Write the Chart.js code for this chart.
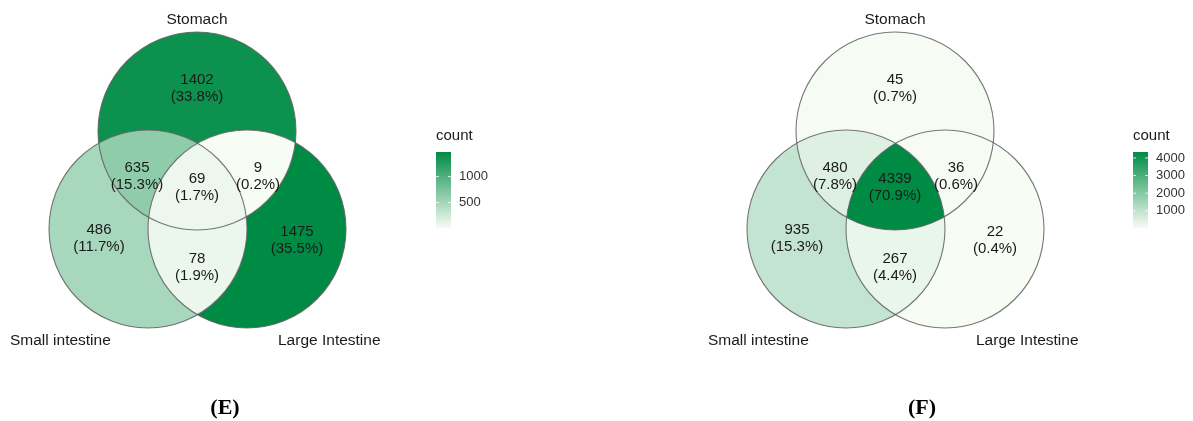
<!DOCTYPE html>
<html>
<head>
<meta charset="utf-8">
<script src="https://cdn.jsdelivr.net/npm/chart.js@4"></script>
<style>
  html, body { margin: 0; padding: 0; background: #ffffff; }
  #wrap { position: relative; width: 1193px; height: 421px; }
</style>
</head>
<body>
<div id="wrap"><canvas id="c"></canvas></div>
<script>
// ---------------- data ----------------
const setNames = ['Stomach', 'Small intestine', 'Large Intestine'];
// region order: S only, SI only, LI only, S∩SI, S∩LI, SI∩LI, S∩SI∩LI
const regionMasks = [[1,0,0],[0,1,0],[0,0,1],[1,1,0],[1,0,1],[0,1,1],[1,1,1]];
const countsE = [1402, 486, 1475, 635, 9, 78, 69];
const pctE    = ['33.8%', '11.7%', '35.5%', '15.3%', '0.2%', '1.9%', '1.7%'];
const countsF = [45, 935, 22, 480, 36, 267, 4339];
const pctF    = ['0.7%', '15.3%', '0.4%', '7.8%', '0.6%', '4.4%', '70.9%'];
const legendTicksE = [500, 1000];
const legendTicksF = [1000, 2000, 3000, 4000];
const legendTitle = 'count';
const panelLabels = ['(E)', '(F)'];

// ---------------- layout (positions, not data) ----------------
const R = 99;
const circleCenters = [[197, 131], [148, 229], [247, 229]]; // S, SI, LI relative to panel origin
const regionLabelPos = [[197, 80], [99, 230], [297, 232], [137, 168], [258, 168], [197, 259], [197, 179]];
const setLabelPos = [[197, 20, 'center'], [10, 341, 'left'], [278, 341, 'left']];
const panels = [
  { dx: 0,   counts: countsE, pct: pctE, ticks: legendTicksE, legendX: 436, caption: [225, 408] },
  { dx: 698, counts: countsF, pct: pctF, ticks: legendTicksF, legendX: 1133, caption: [922, 408] }
];
const lowCol = [247, 252, 245];
const highCol = [0, 139, 69];

function lerpColor(t) {
  t = Math.max(0, Math.min(1, t));
  const c = lowCol.map((l, i) => Math.round(l + (highCol[i] - l) * t));
  return `rgb(${c[0]},${c[1]},${c[2]})`;
}

const vennPlugin = {
  id: 'venn',
  afterDraw(chart) {
    const ctx = chart.ctx;
    const xs = chart.scales.x, ys = chart.scales.y;
    const px = v => xs.getPixelForValue(v);
    const py = v => ys.getPixelForValue(v);
    const W = chart.width, H = chart.height;

    panels.forEach(p => {
      const mn = Math.min(...p.counts), mx = Math.max(...p.counts);
      const circ = circleCenters.map(c => [px(c[0] + p.dx), py(c[1])]);
      const rr = px(R) - px(0);

      // region fills
      regionMasks.forEach((mask, ri) => {
        ctx.save();
        mask.forEach((inside, ci) => {
          ctx.beginPath();
          if (inside) {
            ctx.arc(circ[ci][0], circ[ci][1], rr, 0, Math.PI * 2);
            ctx.clip();
          } else {
            ctx.rect(0, 0, W, H);
            ctx.arc(circ[ci][0], circ[ci][1], rr, 0, Math.PI * 2);
            ctx.clip('evenodd');
          }
        });
        ctx.fillStyle = lerpColor((p.counts[ri] - mn) / (mx - mn));
        ctx.fillRect(0, 0, W, H);
        ctx.restore();
      });

      // outlines
      ctx.save();
      ctx.strokeStyle = 'rgba(95,95,95,0.85)';
      ctx.lineWidth = 1.1;
      circ.forEach(c => {
        ctx.beginPath();
        ctx.arc(c[0], c[1], rr, 0, Math.PI * 2);
        ctx.stroke();
      });
      ctx.restore();

      // region labels
      ctx.save();
      ctx.fillStyle = '#1a1a1a';
      ctx.font = '15px "Liberation Sans", Arial, sans-serif';
      ctx.textAlign = 'center';
      ctx.textBaseline = 'middle';
      regionLabelPos.forEach((pos, ri) => {
        const x = px(pos[0] + p.dx), y = py(pos[1]);
        ctx.fillText(String(p.counts[ri]), x, y);
        ctx.fillText('(' + p.pct[ri] + ')', x, y + 17);
      });
      ctx.restore();

      // set labels
      ctx.save();
      ctx.fillStyle = '#1a1a1a';
      ctx.font = '15.5px "Liberation Sans", Arial, sans-serif';
      ctx.textBaseline = 'middle';
      setLabelPos.forEach((pos, si) => {
        ctx.textAlign = pos[2];
        ctx.fillText(setNames[si], px(pos[0] + p.dx), py(pos[1]));
      });
      ctx.restore();

      // colour bar legend
      const bx = px(p.legendX), bw = 15;
      const top = py(152), bot = py(228);
      ctx.save();
      ctx.fillStyle = '#1a1a1a';
      ctx.font = '15px "Liberation Sans", Arial, sans-serif';
      ctx.textAlign = 'left';
      ctx.textBaseline = 'middle';
      ctx.fillText(legendTitle, bx, py(136));
      const g = ctx.createLinearGradient(0, top, 0, bot);
      g.addColorStop(0, lerpColor(1));
      g.addColorStop(1, lerpColor(0));
      ctx.fillStyle = g;
      ctx.fillRect(bx, top, bw, bot - top);
      ctx.font = '13px "Liberation Sans", Arial, sans-serif';
      p.ticks.forEach(t => {
        const y = top + (mx - t) / (mx - mn) * (bot - top);
        ctx.strokeStyle = 'rgba(255,255,255,0.8)';
        ctx.lineWidth = 1;
        ctx.beginPath();
        ctx.moveTo(bx, y); ctx.lineTo(bx + 3, y);
        ctx.moveTo(bx + bw - 3, y); ctx.lineTo(bx + bw, y);
        ctx.stroke();
        ctx.fillStyle = '#333333';
        ctx.fillText(String(t), bx + bw + 8, y);
      });
      ctx.restore();
    });

    // captions
    ctx.save();
    ctx.fillStyle = '#000';
    ctx.font = 'bold 22px "Liberation Serif", "Times New Roman", serif';
    ctx.textAlign = 'center';
    ctx.textBaseline = 'middle';
    panels.forEach((p, i) => {
      ctx.fillText(panelLabels[i], px(p.caption[0]), py(p.caption[1]));
    });
    ctx.restore();
  }
};

new Chart(document.getElementById('c'), {
  type: 'scatter',
  data: { datasets: [{ data: [], pointRadius: 0 }] },
  options: {
    responsive: true,
    maintainAspectRatio: false,
    animation: false,
    layout: { padding: 0 },
    plugins: { legend: { display: false }, tooltip: { enabled: false } },
    scales: {
      x: { type: 'linear', min: 0, max: 1193, display: false },
      y: { type: 'linear', min: 0, max: 421, reverse: true, display: false }
    }
  },
  plugins: [vennPlugin]
});
</script>
</body>
</html>
